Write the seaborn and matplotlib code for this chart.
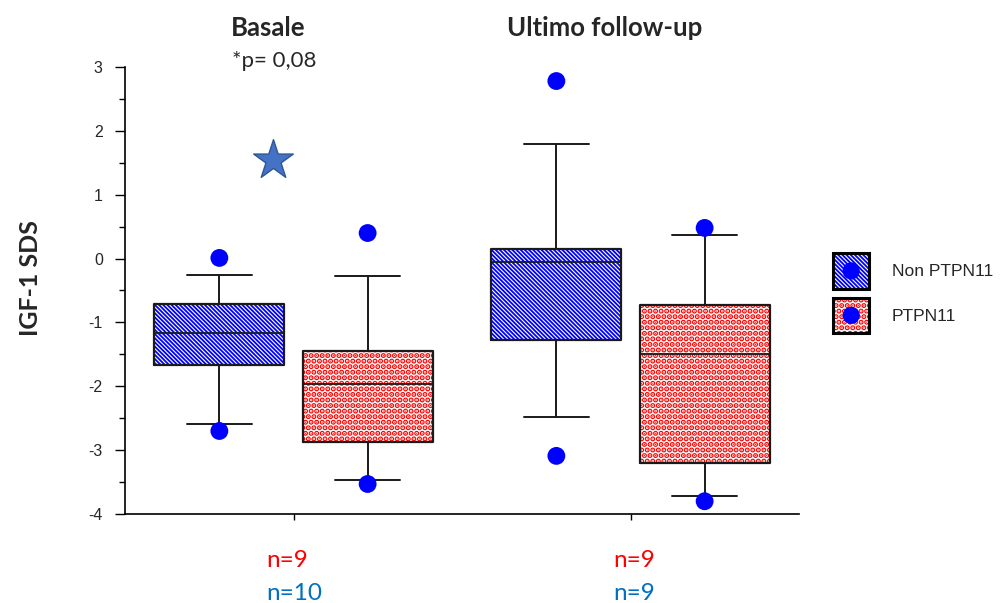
import numpy as np
import pandas as pd
import matplotlib
matplotlib.use("Agg")
import matplotlib.pyplot as plt
import seaborn as sns
from matplotlib.patches import Rectangle, Circle
from matplotlib.legend_handler import HandlerBase
from matplotlib.ticker import MultipleLocator

# ---- data ----
timepoints = ["Basale", "Ultimo follow-up"]
groups = ["Non PTPN11", "PTPN11"]
# box statistics per timepoint, for each group
non_whislo = [-2.59, -2.48]
non_q1 = [-1.67, -1.28]
non_med = [-1.17, -0.05]
non_q3 = [-0.71, 0.15]
non_whishi = [-0.26, 1.79]
ptp_whislo = [-3.47, -3.72]
ptp_q1 = [-2.87, -3.20]
ptp_med = [-1.96, -1.49]
ptp_q3 = [-1.45, -0.73]
ptp_whishi = [-0.28, 0.37]
# extreme points (drawn as dots)
non_out_hi = [0.01, 2.78]
non_out_lo = [-2.70, -3.09]
ptp_out_hi = [0.40, 0.48]
ptp_out_lo = [-3.53, -3.80]
n_ptp = ["n=9", "n=9"]
n_non = ["n=10", "n=9"]
p_text = "*p= 0,08"
star_y = [1.54]

sns.set_theme(style="ticks")
plt.rcParams["font.family"] = ["Liberation Sans", "DejaVu Sans"]
plt.rcParams["axes.unicode_minus"] = False

fig = plt.figure(figsize=(10, 6.03), dpi=100)
ax = fig.add_axes([0.125, 0.1476, 0.674, 0.7413])

offset = 0.22
width = 0.385
idx = np.arange(len(timepoints))
pos_non = idx - offset
pos_ptp = idx + offset

def stats(lo, q1, med, q3, hi):
    return [dict(whislo=a, q1=b, med=c, q3=d, whishi=e, fliers=[])
            for a, b, c, d, e in zip(lo, q1, med, q3, hi)]

st_non = stats(non_whislo, non_q1, non_med, non_q3, non_whishi)
st_ptp = stats(ptp_whislo, ptp_q1, ptp_med, ptp_q3, ptp_whishi)

blue = "#0000ff"
red = "#ff0000"
hatch_non = "\\" * 8
hatch_ptp = "..."
hlw = {blue: 1.3, red: 2.7}

def set_hlw(p, lw):
    if hasattr(p, "set_hatch_linewidth"):
        p.set_hatch_linewidth(lw)

# patterned fills
for st, pos, col, h in [(st_non, pos_non, blue, hatch_non),
                        (st_ptp, pos_ptp, red, hatch_ptp)]:
    plt.rcParams["hatch.linewidth"] = hlw[col]
    res = ax.bxp(st, positions=pos, widths=width, patch_artist=True, showcaps=False,
                 boxprops=dict(facecolor="white", edgecolor=col, hatch=h, linewidth=0),
                 whiskerprops=dict(linewidth=0), medianprops=dict(linewidth=0),
                 manage_ticks=False, zorder=1)
    for b in res["boxes"]:
        set_hlw(b, hlw[col])
# outlines
line_c = "#1a1a1a"
for st, pos in [(st_non, pos_non), (st_ptp, pos_ptp)]:
    ax.bxp(st, positions=pos, widths=width, capwidths=width * 0.5,
           boxprops=dict(color=line_c, linewidth=1.6),
           whiskerprops=dict(color=line_c, linewidth=1.4),
           capprops=dict(color=line_c, linewidth=1.4),
           medianprops=dict(color=line_c, linewidth=1.3),
           manage_ticks=False, zorder=2)

# extreme dots
dots = pd.DataFrame({
    "x": np.concatenate([pos_non, pos_non, pos_ptp, pos_ptp]),
    "y": non_out_hi + non_out_lo + ptp_out_hi + ptp_out_lo,
})
sns.scatterplot(data=dots, x="x", y="y", ax=ax, color=blue, s=165,
                edgecolor="none", zorder=3, legend=False)
# significance star
sns.scatterplot(x=[idx[0] - 0.062], y=star_y, ax=ax, marker="*", s=30 ** 2,
                color="#4472c4", edgecolor="#2f5597", linewidth=1, zorder=3, legend=False)

ax.set_xlim(-0.5, 1.5)
ax.set_ylim(-4, 3)
ax.set_xticks(idx)
ax.set_xticklabels([])
ax.yaxis.set_major_locator(MultipleLocator(1))
ax.yaxis.set_minor_locator(MultipleLocator(0.5))
ax.tick_params(axis="y", which="major", length=7, width=1, labelsize=11.5, pad=9, color="black")
ax.tick_params(axis="y", which="minor", length=4, width=1, color="black")
ax.tick_params(axis="x", length=4, width=1, color="black")
ax.set_xlabel("")
ax.set_ylabel("")
for s in ["left", "bottom"]:
    ax.spines[s].set_color("black")
    ax.spines[s].set_linewidth(1.2)
sns.despine(ax=ax)

cal = ["Lato", "DejaVu Sans"]
fig.text(0.030, (1 - 278 / 603), "IGF-1 SDS", rotation=90, ha="center", va="center",
         fontsize=18, fontweight="bold", family=cal)

# titles
fig.text(0.268, 1 - 36 / 603, timepoints[0], ha="center", va="baseline",
         fontsize=18.5, fontweight="bold", family=cal)
fig.text(0.605, 1 - 36 / 603, timepoints[1], ha="center", va="baseline",
         fontsize=18.5, fontweight="bold", family=cal)
fig.text(0.232, 1 - 67 / 603, p_text, ha="left", va="baseline", fontsize=16, family=cal)

# n labels
for i, xl in enumerate([0.266, 0.613]):
    fig.text(xl, 1 - 567 / 603, n_ptp[i], ha="left", va="baseline", fontsize=17.5,
             color=red, family=cal)
    fig.text(xl, 1 - 600 / 603, n_non[i], ha="left", va="baseline", fontsize=17.5,
             color="#0070c0", family=cal)


# legend: patterned square with black frame and a centred blue dot
class SwatchHandler(HandlerBase):
    def create_artists(self, legend, orig_handle, xdescent, ydescent, width, height,
                       fontsize, trans):
        col, h = orig_handle
        side = 25.5
        cx = -xdescent + width / 2
        cy = -ydescent + height / 2
        plt.rcParams["hatch.linewidth"] = hlw[col]
        fill = Rectangle((cx - side / 2, cy - side / 2), side, side, facecolor="white",
                         edgecolor=col, hatch=h, linewidth=0, transform=trans)
        set_hlw(fill, hlw[col])
        frame = Rectangle((cx - side / 2, cy - side / 2), side, side, facecolor="none",
                          edgecolor="black", linewidth=2.2, transform=trans)
        dot = Circle((cx, cy), 6.2, facecolor=blue, edgecolor="none", transform=trans)
        return [fill, frame, dot]


handles = [(blue, hatch_non), (red, hatch_ptp)]
fig.legend(handles, groups, handler_map={tuple: SwatchHandler()},
           loc="upper left", bbox_to_anchor=(0.826, 1 - 250 / 603), frameon=False,
           fontsize=12.5, handlelength=2.1, handleheight=2.1, handletextpad=1.3,
           labelspacing=0.95, borderaxespad=0)

fig.savefig("out.png", dpi=100)
